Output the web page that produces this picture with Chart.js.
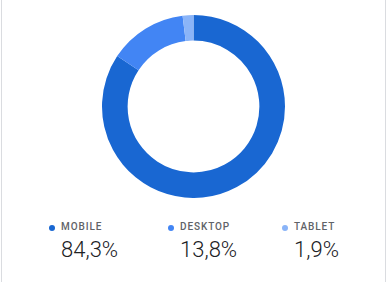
<!DOCTYPE html>
<html>
<head>
<meta charset="utf-8">
<script src="https://cdn.jsdelivr.net/npm/chart.js@4"></script>
<style>
  html, body { margin: 0; padding: 0; background: #fff; }
  body { width: 387px; height: 282px; position: relative; overflow: hidden; font-family: Roboto, "Noto Sans", sans-serif; }
  #card { position: absolute; left: 1px; top: -2px; width: 383px; height: 290px; border-left: 1px solid #dadce0; border-right: 1px solid #dadce0; }
  #wrap { position: absolute; left: 2px; top: 15px; width: 383px; height: 183px; }
  .item { position: absolute; top: 220px; }
  .lab { font-size: 10px; font-weight: 500; letter-spacing: 0.9px; color: #5f6368; line-height: 14px; padding-left: 12px; position: relative; }
  .dot { position: absolute; left: 0; top: 5px; width: 6px; height: 6px; border-radius: 50%; }
  .val { font-size: 22px; font-weight: 300; color: #202124; line-height: 26px; padding-left: 12px; margin-top: 3px; }
</style>
</head>
<body>
<div id="card"></div>
<div id="wrap"><canvas id="donut"></canvas></div>
<div id="legend"></div>
<script>
  var labels = ['MOBILE', 'DESKTOP', 'TABLET'];
  var values = [84.3, 13.8, 1.9];
  var colors = ['#1967d2', '#4285f4', '#8ab4f8'];
  var legendX = [49, 168, 282];

  var ctx = document.getElementById('donut');
  var chart = new Chart(ctx, {
    type: 'doughnut',
    data: {
      labels: labels,
      datasets: [{
        data: values,
        backgroundColor: colors,
        borderWidth: 0
      }]
    },
    options: {
      responsive: true,
      maintainAspectRatio: false,
      animation: false,
      cutout: '72%',
      layout: { padding: 0 },
      plugins: {
        legend: { display: false },
        tooltip: { enabled: false }
      }
    }
  });

  // legenda em html
  var legend = document.getElementById('legend');
  for (var i = 0; i < labels.length; i++) {
    var item = document.createElement('div');
    item.className = 'item';
    item.style.left = legendX[i] + 'px';
    item.innerHTML =
      '<div class="lab"><span class="dot" style="background:' + colors[i] + '"></span>' + labels[i] + '</div>' +
      '<div class="val">' + values[i].toFixed(1).replace('.', ',') + '%</div>';
    legend.appendChild(item);
  }
</script>
</body>
</html>
